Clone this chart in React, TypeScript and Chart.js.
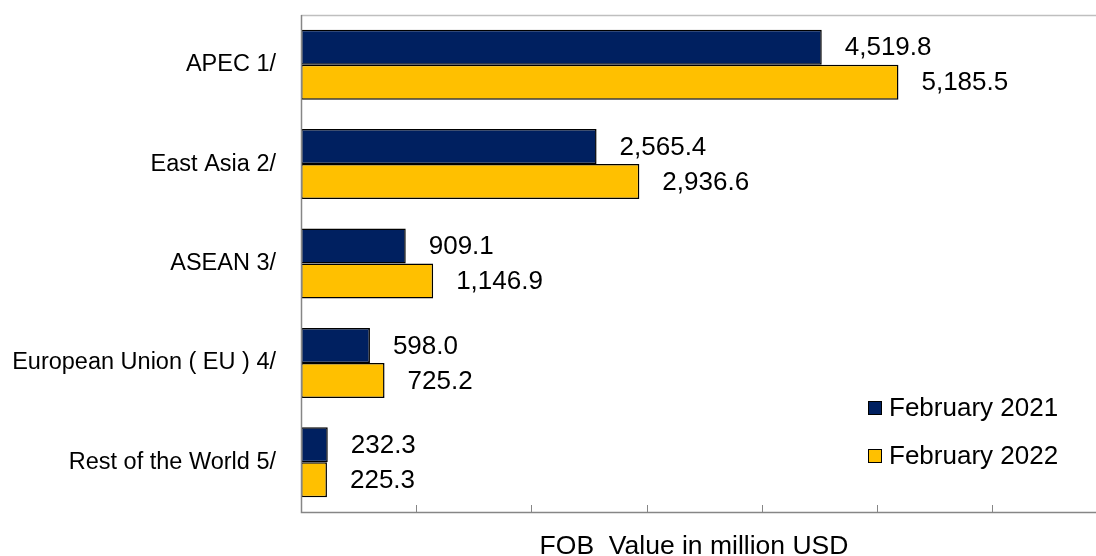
import React, { useEffect, useRef } from "react";
import { Chart, registerables } from "chart.js";

Chart.register(...registerables);

const categories = [
  "APEC 1/",
  "East Asia 2/",
  "ASEAN 3/",
  "European Union ( EU ) 4/",
  "Rest of the World 5/",
];
const series2021 = [4519.8, 2565.4, 909.1, 598.0, 232.3];
const series2022 = [5185.5, 2936.6, 1146.9, 725.2, 225.3];
const seriesNames = ["February 2021", "February 2022"];
const xTickValues = [1000, 2000, 3000, 4000, 5000, 6000];
const axisTitle = "FOB  Value in million USD";

const NAVY = "#002060";
const GOLD = "#FFC000";
const FONT = '"Liberation Sans", Arial, sans-serif';
const FS = 26;
const CAT_FS = 23.5;

const fmt = (v: number) =>
  v.toLocaleString("en-US", { minimumFractionDigits: 1, maximumFractionDigits: 1 });

export default function App() {
  const ref = useRef<HTMLCanvasElement | null>(null);

  useEffect(() => {
    document.body.style.margin = "0";
    document.body.style.overflow = "hidden";
    const canvas = ref.current;
    if (!canvas) return;

    const overlay = {
      id: "overlay",
      afterDatasetsDraw(chart: any) {
        const ctx = chart.ctx;
        ctx.save();
        ctx.font = `${FS}px ${FONT}`;
        ctx.fillStyle = "#000";
        ctx.textAlign = "left";
        ctx.textBaseline = "middle";
        chart.data.datasets.forEach((ds: any, i: number) => {
          const meta = chart.getDatasetMeta(i);
          meta.data.forEach((el: any, j: number) => {
            ctx.fillText(fmt(ds.data[j]), el.x + 23, el.y + 1);
          });
        });
        ctx.restore();
      },
      afterDraw(chart: any) {
        const ctx = chart.ctx;
        const a = chart.chartArea;
        const xs = chart.scales.x;
        ctx.save();
        ctx.strokeStyle = "#BFBFBF";
        ctx.lineWidth = 1.5;
        ctx.beginPath();
        ctx.moveTo(a.left, a.top + 0.5);
        ctx.lineTo(a.right, a.top + 0.5);
        ctx.stroke();
        ctx.strokeStyle = "#868686";
        ctx.lineWidth = 1.5;
        ctx.beginPath();
        ctx.moveTo(a.left + 0.5, a.top);
        ctx.lineTo(a.left + 0.5, a.bottom + 0.5);
        ctx.lineTo(a.right, a.bottom + 0.5);
        ctx.stroke();
        ctx.lineWidth = 1;
        xTickValues.forEach((v) => {
          const x = Math.round(xs.getPixelForValue(v)) + 0.5;
          ctx.beginPath();
          ctx.moveTo(x, a.bottom - 7);
          ctx.lineTo(x, a.bottom);
          ctx.stroke();
        });
        ctx.font = `26.5px ${FONT}`;
        ctx.fillStyle = "#000";
        ctx.textAlign = "center";
        ctx.textBaseline = "alphabetic";
        ctx.fillText(axisTitle, 694, 554);
        ctx.font = `${FS}px ${FONT}`;
        const colors = [NAVY, GOLD];
        const ys = [408, 456];
        seriesNames.forEach((name, i) => {
          ctx.fillStyle = colors[i];
          ctx.fillRect(868, ys[i] - 7, 14, 14);
          ctx.strokeStyle = "#000";
          ctx.lineWidth = 1;
          ctx.strokeRect(868.5, ys[i] - 6.5, 13, 13);
          ctx.fillStyle = "#000";
          ctx.textAlign = "left";
          ctx.textBaseline = "middle";
          ctx.fillText(name, 889, ys[i] + 1);
        });
        ctx.restore();
      },
    };

    const chart = new Chart(canvas, {
      type: "bar",
      data: {
        labels: categories,
        datasets: [
          {
            label: seriesNames[0],
            data: series2021,
            backgroundColor: NAVY,
            borderColor: "#000",
            borderWidth: 1.5,
            borderSkipped: false,
          },
          {
            label: seriesNames[1],
            data: series2022,
            backgroundColor: GOLD,
            borderColor: "#000",
            borderWidth: 1.5,
            borderSkipped: false,
          },
        ],
      },
      options: {
        indexAxis: "y",
        responsive: false,
        animation: false,
        layout: { padding: { top: 15, bottom: 44, left: 0, right: 0 } },
        datasets: { bar: { categoryPercentage: 0.704, barPercentage: 1 } },
        plugins: {
          legend: { display: false },
          tooltip: { enabled: false },
          title: { display: false },
        },
        scales: {
          x: {
            display: false,
            min: 0,
            max: 6900,
          },
          y: {
            afterFit: (s: any) => {
              s.width = 301;
              s.paddingTop = 0;
              s.paddingBottom = 0;
            },
            grid: { display: false, drawTicks: false },
            border: { display: false },
            ticks: {
              autoSkip: false,
              padding: 25,
              color: "#000",
              font: { family: FONT, size: CAT_FS },
            },
          },
        },
      },
      plugins: [overlay],
    });

    return () => chart.destroy();
  }, []);

  return (
    <div style={{ position: "absolute", left: 0, top: 0, width: 1096, height: 556 }}>
      <canvas ref={ref} width={1096} height={556} />
    </div>
  );
}
